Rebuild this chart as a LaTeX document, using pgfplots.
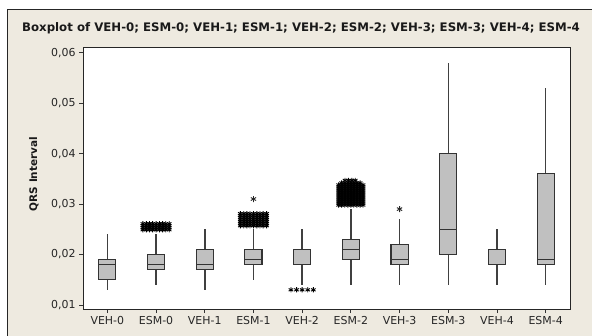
\documentclass[border=0pt]{standalone}
\usepackage{pgfplots}
\pgfplotsset{compat=1.18}
\usepgfplotslibrary{statistics}
\usepackage{fontspec}
\setmainfont{DejaVu Sans}
\definecolor{bgbeige}{HTML}{EEEAE0}
\definecolor{boxfill}{HTML}{C0C0C0}
\definecolor{boxedge}{HTML}{333333}
\definecolor{whisk}{HTML}{404040}
\pgfplotsset{
  mybox/.style={draw=boxedge, fill=boxfill, line width=1.1bp,
    boxplot/box extend=0.35, boxplot/whisker extend=0,
    boxplot/every whisker/.style={draw=whisk, line width=1.5bp},
    boxplot/every median/.style={draw=boxedge, line width=1.2bp}},
  outl/.style={only marks, mark=asterisk, mark size=2.6bp, black, line width=0.9bp, mark options={solid}},
  outl1/.style={only marks, mark=asterisk, mark size=3bp, black!85, line width=0.9bp, mark options={solid}},
}
\begin{document}
\begin{tikzpicture}
\useasboundingbox (0,0) rectangle (592bp,336bp);
\fill[white] (0,0) rectangle (592bp,336bp);
\fill[bgbeige] (7.5bp,0) rectangle (592bp,326.5bp);
\draw[line width=1bp, black!85] (7.5bp,0) -- (7.5bp,326.5bp) -- (592bp,326.5bp);
\node[font=\bfseries\fontsize{11.8}{14}\selectfont, text=black!90] at (301bp,308bp) {Boxplot of VEH-0; ESM-0; VEH-1; ESM-1; VEH-2; ESM-2; VEH-3; ESM-3; VEH-4; ESM-4};
\node[rotate=90, font=\bfseries\fontsize{10.5}{12}\selectfont, text=black!90] at (34bp,162bp) {QRS Interval};
\begin{axis}[at={(83bp,27bp)}, anchor=south west, scale only axis,
  width=487bp, height=261.3bp,
  xmin=-0.5, xmax=9.5, ymin=0.0092, ymax=0.061,
  xtick={0,1,2,3,4,5,6,7,8,9},
  xticklabels={VEH-0,ESM-0,VEH-1,ESM-1,VEH-2,ESM-2,VEH-3,ESM-3,VEH-4,ESM-4},
  ytick={0.01,0.02,0.03,0.04,0.05,0.06},
  scaled y ticks=false,
  yticklabel style={/pgf/number format/.cd, fixed, fixed zerofill, precision=2, use comma},
  /pgf/number format/assume math mode=true,
  ticklabel style={font=\fontsize{11}{13}\selectfont, text=black!85},
  tick align=outside, tick pos=left, major tick length=4bp,
  tick style={black!80, line width=0.8bp},
  axis line style={black!85, line width=1bp},
  axis background/.style={fill=white},
  boxplot/draw direction=y,
  clip=false,
]
\addplot[mybox, boxplot prepared={draw position=0, lower whisker=0.013, lower quartile=0.015, median=0.018, upper quartile=0.019, upper whisker=0.024}] coordinates {};
\addplot[mybox, boxplot prepared={draw position=1, lower whisker=0.014, lower quartile=0.017, median=0.018, upper quartile=0.020, upper whisker=0.024}] coordinates {};
\addplot[mybox, boxplot prepared={draw position=2, lower whisker=0.013, lower quartile=0.017, median=0.018, upper quartile=0.021, upper whisker=0.025}] coordinates {};
\addplot[mybox, boxplot prepared={draw position=3, lower whisker=0.015, lower quartile=0.018, median=0.019, upper quartile=0.021, upper whisker=0.025}] coordinates {};
\addplot[mybox, boxplot prepared={draw position=4, lower whisker=0.014, lower quartile=0.018, median=0.021, upper quartile=0.021, upper whisker=0.025}] coordinates {};
\addplot[mybox, boxplot prepared={draw position=5, lower whisker=0.014, lower quartile=0.019, median=0.021, upper quartile=0.023, upper whisker=0.029}] coordinates {};
\addplot[mybox, boxplot prepared={draw position=6, lower whisker=0.014, lower quartile=0.018, median=0.019, upper quartile=0.022, upper whisker=0.027}] coordinates {};
\addplot[mybox, boxplot prepared={draw position=7, lower whisker=0.014, lower quartile=0.020, median=0.025, upper quartile=0.040, upper whisker=0.058}] coordinates {};
\addplot[mybox, boxplot prepared={draw position=8, lower whisker=0.014, lower quartile=0.018, median=0.018, upper quartile=0.021, upper whisker=0.025}] coordinates {};
\addplot[mybox, boxplot prepared={draw position=9, lower whisker=0.014, lower quartile=0.018, median=0.019, upper quartile=0.036, upper whisker=0.053}] coordinates {};
% single outliers
\addplot[outl1] coordinates {(3,0.031) (6,0.029)};
\addplot[outl] coordinates {(3.77,0.013) (3.885,0.013) (4,0.013) (4.115,0.013) (4.23,0.013)};
% ESM-0 outlier cluster
\addplot[outl] coordinates {
(0.73,0.0249) (0.80,0.0249) (0.865,0.0249) (0.93,0.0249) (1,0.0249) (1.07,0.0249) (1.135,0.0249) (1.2,0.0249) (1.27,0.0249)
(0.73,0.0253) (0.80,0.0253) (0.865,0.0253) (0.93,0.0253) (1,0.0253) (1.07,0.0253) (1.135,0.0253) (1.2,0.0253) (1.27,0.0253)
(0.73,0.0257) (0.80,0.0257) (0.865,0.0257) (0.93,0.0257) (1,0.0257) (1.07,0.0257) (1.135,0.0257) (1.2,0.0257) (1.27,0.0257)
(0.73,0.0261) (0.80,0.0261) (0.865,0.0261) (0.93,0.0261) (1,0.0261) (1.07,0.0261) (1.135,0.0261) (1.2,0.0261) (1.27,0.0261)
};
% ESM-1 outlier cluster
\addplot[outl] coordinates {
(2.73,0.0257) (2.80,0.0257) (2.865,0.0257) (2.93,0.0257) (3,0.0257) (3.07,0.0257) (3.135,0.0257) (3.2,0.0257) (3.27,0.0257)
(2.73,0.0261) (2.80,0.0261) (2.865,0.0261) (2.93,0.0261) (3,0.0261) (3.07,0.0261) (3.135,0.0261) (3.2,0.0261) (3.27,0.0261)
(2.73,0.0265) (2.80,0.0265) (2.865,0.0265) (2.93,0.0265) (3,0.0265) (3.07,0.0265) (3.135,0.0265) (3.2,0.0265) (3.27,0.0265)
(2.73,0.0269) (2.80,0.0269) (2.865,0.0269) (2.93,0.0269) (3,0.0269) (3.07,0.0269) (3.135,0.0269) (3.2,0.0269) (3.27,0.0269)
(2.73,0.0273) (2.80,0.0273) (2.865,0.0273) (2.93,0.0273) (3,0.0273) (3.07,0.0273) (3.135,0.0273) (3.2,0.0273) (3.27,0.0273)
(2.73,0.0277) (2.80,0.0277) (2.865,0.0277) (2.93,0.0277) (3,0.0277) (3.07,0.0277) (3.135,0.0277) (3.2,0.0277) (3.27,0.0277)
(2.73,0.0281) (2.80,0.0281) (2.865,0.0281) (2.93,0.0281) (3,0.0281) (3.07,0.0281) (3.135,0.0281) (3.2,0.0281) (3.27,0.0281)
};
% ESM-2 outlier cluster
\addplot[outl] coordinates {
(4.75,0.0298) (4.81,0.0298) (4.875,0.0298) (4.94,0.0298) (5,0.0298) (5.06,0.0298) (5.125,0.0298) (5.19,0.0298) (5.25,0.0298)
(4.75,0.0302) (4.81,0.0302) (4.875,0.0302) (4.94,0.0302) (5,0.0302) (5.06,0.0302) (5.125,0.0302) (5.19,0.0302) (5.25,0.0302)
(4.75,0.0306) (4.81,0.0306) (4.875,0.0306) (4.94,0.0306) (5,0.0306) (5.06,0.0306) (5.125,0.0306) (5.19,0.0306) (5.25,0.0306)
(4.75,0.0310) (4.81,0.0310) (4.875,0.0310) (4.94,0.0310) (5,0.0310) (5.06,0.0310) (5.125,0.0310) (5.19,0.0310) (5.25,0.0310)
(4.75,0.0314) (4.81,0.0314) (4.875,0.0314) (4.94,0.0314) (5,0.0314) (5.06,0.0314) (5.125,0.0314) (5.19,0.0314) (5.25,0.0314)
(4.75,0.0318) (4.81,0.0318) (4.875,0.0318) (4.94,0.0318) (5,0.0318) (5.06,0.0318) (5.125,0.0318) (5.19,0.0318) (5.25,0.0318)
(4.75,0.0322) (4.81,0.0322) (4.875,0.0322) (4.94,0.0322) (5,0.0322) (5.06,0.0322) (5.125,0.0322) (5.19,0.0322) (5.25,0.0322)
(4.75,0.0326) (4.81,0.0326) (4.875,0.0326) (4.94,0.0326) (5,0.0326) (5.06,0.0326) (5.125,0.0326) (5.19,0.0326) (5.25,0.0326)
(4.75,0.0330) (4.81,0.0330) (4.875,0.0330) (4.94,0.0330) (5,0.0330) (5.06,0.0330) (5.125,0.0330) (5.19,0.0330) (5.25,0.0330)
(4.75,0.0334) (4.81,0.0334) (4.875,0.0334) (4.94,0.0334) (5,0.0334) (5.06,0.0334) (5.125,0.0334) (5.19,0.0334) (5.25,0.0334)
(4.75,0.0338) (4.81,0.0338) (4.875,0.0338) (4.94,0.0338) (5,0.0338) (5.06,0.0338) (5.125,0.0338) (5.19,0.0338) (5.25,0.0338)
(4.81,0.0342) (4.875,0.0342) (4.94,0.0342) (5,0.0342) (5.06,0.0342) (5.125,0.0342) (5.19,0.0342)
(4.88,0.0347) (4.95,0.0347) (5.02,0.0347) (5.09,0.0347)
};
\end{axis}
\end{tikzpicture}
\end{document}
